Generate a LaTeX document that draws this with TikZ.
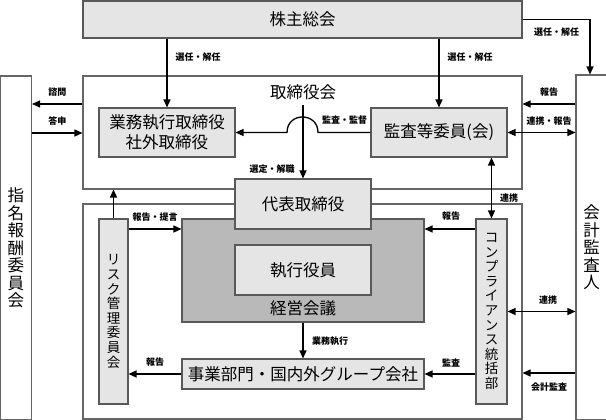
\documentclass[tikz,border=0pt]{standalone}
\usepackage{fontspec}
\setmainfont{Noto Sans CJK JP}
\usetikzlibrary{arrows.meta,positioning}

\begin{document}
\begin{tikzpicture}[x=1pt,y=-1pt,
    every node/.style={inner sep=0pt},
    box/.style={draw=black!65,line width=1.1pt,fill=gray!20,align=center,
      font=\fontsize{16.5}{20}\selectfont},
    frame/.style={draw=black!60,line width=1.1pt,fill=white},
    ttl/.style={font=\fontsize{16.5}{20}\selectfont},
    tate/.style={align=center,font=\fontsize{13.5}{14.6}\selectfont},
    lbl/.style={font=\fontsize{9}{10}\selectfont\bfseries},
    arr/.style={line width=1.3pt,-{Triangle[length=8pt,width=7pt]}},
    dblarr/.style={line width=1.3pt,{Triangle[length=8pt,width=7pt]}-{Triangle[length=8pt,width=7pt]}}]
  \useasboundingbox (0,0) rectangle (606,420);

  % side committees
  \node[frame,tate,minimum width=31,minimum height=344,font=\fontsize{16.5}{17.5}\selectfont] (shimei) at (16,248) {指\\名\\報\\酬\\委\\員\\会};
  \node[frame,tate,minimum width=31,minimum height=345,font=\fontsize{16.5}{17.5}\selectfont] (kaikei) at (591.5,247.5) {会\\計\\監\\査\\人};

  % shareholders, board and execution frames
  \node[box,minimum width=439,minimum height=37] (kabu) at (302.5,19.5) {株主総会};
  \node[frame,minimum width=439,minimum height=113] (torikai) at (302.5,132.5) {};
  \node[frame,minimum width=439,minimum height=215] (jikko) at (302.5,311.5) {};
  \node[ttl] (torititle) at (303,92.5) {取締役会};
  \node[box,minimum width=136,minimum height=49] (gyomu) at (167,132.5) {業務執行取締役\\社外取締役};
  \node[box,minimum width=136,minimum height=49] (kansa) at (439,132.5) {監査等委員(会)};

  % management
  \node[box,fill=gray!55,minimum width=242,minimum height=103] (keiei) at (303,270.5) {};
  \node[box,minimum width=136,minimum height=50] (shikko) at (303,270) {執行役員};
  \node[ttl] (keititle) at (303,308.5) {経営会議};
  \node[box,minimum width=136,minimum height=50] (daihyo) at (303,204) {代表取締役};
  \node[box,minimum width=242,minimum height=30] (jigyo) at (303,374) {事業部門・国内外グループ会社};
  \node[box,tate,minimum width=29,minimum height=185] (risk) at (113.5,311.5) {リ\\ス\\ク\\管\\理\\委\\員\\会};
  \node[box,tate,minimum width=31,minimum height=185] (comp) at (491.5,311.5) {コ\\ン\\プ\\ラ\\イ\\ア\\ン\\ス\\統\\括\\部};

  % appointments
  \draw[arr] (kabu.south -| gyomu.north) -- (gyomu.north);
  \node[lbl] (lsennin1) at (198,57) {選任・解任};
  \draw[arr] (kabu.south -| kansa.north) -- (kansa.north);
  \node[lbl] (lsennin2) at (470,57) {選任・解任};
  \draw[arr] (kabu.east) -| ([xshift=-1.5pt]kaikei.north);
  \node[lbl] (lsennin3) at (556.5,32) {選任・解任};

  % nomination committee
  \draw[arr] (torikai.west |- 0,104) -- (shimei.east |- 0,104);
  \node[lbl] (lshimon) at (57.5,92) {諮問};
  \draw[arr] (shimei.east |- 0,133) -- (torikai.west |- 0,133);
  \node[lbl] (ltoshin) at (57.5,121.5) {答申};

  % inside the board
  \draw[arr] (kansa.west) -- (318,132.5) .. controls (318,111.8) and (287,111.8) .. (287,132.5) -- (gyomu.east);
  \node[lbl] (lkansa) at (344.5,120.5) {監査・監督};
  \draw[arr] ([yshift=-5pt]torititle.south) -- (daihyo.north);
  \node[lbl] (lsentei) at (272,169) {選定・解職};

  % auditor
  \draw[arr] (kaikei.west |- 0,104) -- (torikai.east |- 0,104);
  \node[lbl] (lhoukoku1) at (549,92) {報告};
  \draw[dblarr] (kansa.east) -- (kaikei.west |- kansa.east);
  \node[lbl] (lrenkei1) at (549,121) {連携・報告};
  \draw[dblarr] (kansa.south -| comp.north) -- (comp.north);
  \node[lbl] (lrenkei2) at (509,198) {連携};
  \draw[dblarr] (comp.east) -- (kaikei.west |- comp.east);
  \node[lbl] (lrenkei3) at (548,300) {連携};
  \draw[arr] (kaikei.west |- 0,373) -- (jikko.east |- 0,373);
  \node[lbl] (lkaikei) at (549,387) {会計監査};

  % risk and compliance
  \draw[arr] (risk.north) -- (risk.north |- torikai.south);
  \draw[arr] (risk.east |- 0,229) -- (keiei.west |- 0,229);
  \node[lbl] (lteigen) at (155,217) {報告・提言};
  \draw[arr] (jigyo.west) -- (risk.east |- jigyo.west);
  \node[lbl] (lhoukoku2) at (155,362) {報告};
  \draw[arr] (keiei.south) -- (jigyo.north);
  \node[lbl] (lgyomu) at (330,341) {業務執行};
  \draw[arr] (comp.west |- 0,229) -- (keiei.east |- 0,229);
  \node[lbl] (lhoukoku3) at (451,216) {報告};
  \draw[arr] (comp.west |- jigyo.east) -- (jigyo.east);
  \node[lbl] (lkansa2) at (451,363) {監査};
\end{tikzpicture}
\end{document}
